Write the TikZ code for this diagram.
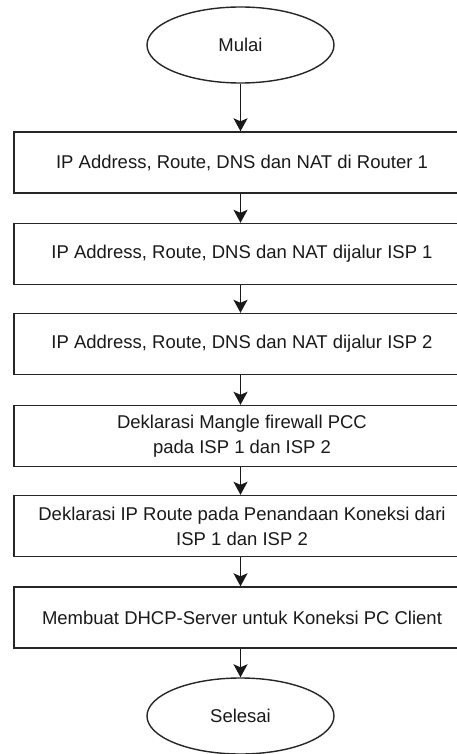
\documentclass[tikz,border=0pt]{standalone}
\usepackage{fontspec}
\setmainfont{Liberation Sans}
\usetikzlibrary{shapes.geometric,arrows.meta}
\begin{document}
\begin{tikzpicture}[x=1pt,y=-1pt,
  every node/.style={font=\fontsize{18.5}{25}\selectfont, text=black!90},
  terminal/.style={draw=black!85, line width=1.4pt, ellipse, minimum width=187pt, minimum height=76pt, inner sep=0pt},
  process/.style={draw=black!85, line width=1.4pt, rectangle, minimum width=456pt, minimum height=61pt, align=center, inner sep=0pt},
  flow/.style={draw=black!90, line width=1.5pt, -{Stealth[length=13pt,width=14pt,inset=3pt]}}]
\useasboundingbox (0,0) rectangle (457,754);
\clip (0,0) rectangle (457,754);

\node[terminal] (start) at (240.5,45) {Mulai};
\node[process] (p1) at (242,162.5) {IP Address, Route, DNS dan NAT di Router 1};
\node[process] (p2) at (242,254) {IP Address, Route, DNS dan NAT dijalur ISP 1};
\node[process] (p3) at (242,344) {IP Address, Route, DNS dan NAT dijalur ISP 2};
\node[process] (p4) at (242,436) {Deklarasi Mangle firewall PCC\\pada ISP 1 dan ISP 2};
\node[process] (p5) at (242,526) {Deklarasi IP Route pada Penandaan Koneksi dari\\ISP 1 dan ISP 2};
\node[process] (p6) at (242,617.5) {Membuat DHCP-Server untuk Koneksi PC Client};
\node[terminal] (stop) at (240.5,716) {Selesai};

\draw[flow] (start.south) -- (start.south |- p1.north);
\draw[flow] (p1.south -| start.south) -- (start.south |- p2.north);
\draw[flow] (p2.south -| start.south) -- (start.south |- p3.north);
\draw[flow] (p3.south -| start.south) -- (start.south |- p4.north);
\draw[flow] (p4.south -| start.south) -- (start.south |- p5.north);
\draw[flow] (p5.south -| start.south) -- (start.south |- p6.north);
\draw[flow] (p6.south -| start.south) -- (stop.north);
\end{tikzpicture}
\end{document}
